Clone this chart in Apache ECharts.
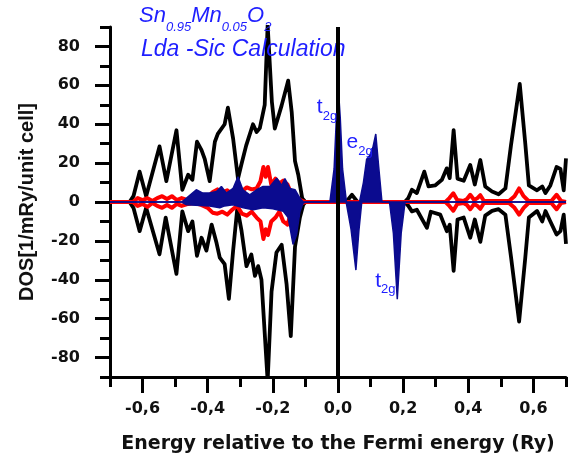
<!DOCTYPE html>
<html>
<head>
<meta charset="utf-8">
<script src="https://cdn.jsdelivr.net/npm/echarts@6/dist/echarts.min.js"></script>
<style>html,body{margin:0;padding:0;background:#fff}#c{width:574px;height:459px}</style>
</head>
<body>
<div id="c"></div>
<script>
// ---------- data (Energy [Ry], DOS) ----------
const blackUp = [[-0.700,0],[-0.640,0],[-0.628,3],[-0.609,15.6],[-0.589,3],[-0.548,28.6],[-0.527,10.7],[-0.496,36.9],[-0.478,6.3],[-0.460,14],[-0.447,11.4],[-0.433,31],[-0.419,26.7],[-0.409,22],[-0.394,10.7],[-0.378,31],[-0.369,35],[-0.348,40],[-0.338,48.5],[-0.322,32.6],[-0.307,12],[-0.297,19],[-0.282,29],[-0.261,40],[-0.250,36],[-0.240,38],[-0.225,50],[-0.216,91],[-0.203,51.5],[-0.194,37.8],[-0.173,49.7],[-0.153,62.4],[-0.142,46],[-0.132,21],[-0.122,14],[-0.110,2],[-0.100,0],[0.025,0],[0.043,3.7],[0.060,0],[0.205,0],[0.216,2],[0.227,6.3],[0.242,4.6],[0.265,15.6],[0.278,8],[0.298,8.5],[0.319,11.4],[0.334,17.3],[0.343,12.3],[0.355,36.9],[0.367,12],[0.386,10.9],[0.406,19],[0.420,9],[0.437,21.6],[0.452,8],[0.473,5.4],[0.493,4],[0.514,7],[0.531,29],[0.558,60.7],[0.575,30],[0.586,8.5],[0.611,6],[0.627,8],[0.637,4.6],[0.652,8.5],[0.671,18],[0.683,17],[0.693,6],[0.700,22.4]];
const blackDown = [[-0.700,0],[-0.640,0],[-0.628,-3],[-0.609,-15],[-0.589,-3],[-0.548,-26.9],[-0.529,-8],[-0.496,-37],[-0.478,-4.8],[-0.460,-15],[-0.447,-10],[-0.433,-27.7],[-0.419,-18.4],[-0.404,-25],[-0.388,-11.6],[-0.373,-21],[-0.363,-28.6],[-0.348,-32],[-0.335,-49.8],[-0.322,-25],[-0.309,-3],[-0.296,-15],[-0.281,-33],[-0.266,-27],[-0.255,-38],[-0.245,-33],[-0.235,-40],[-0.216,-92],[-0.204,-46],[-0.189,-26],[-0.173,-22],[-0.158,-42],[-0.145,-69],[-0.132,-23],[-0.117,-8],[-0.107,-1.5],[-0.100,0],[0.205,0],[0.216,-2],[0.227,-4.8],[0.242,-4],[0.273,-13.3],[0.285,-5],[0.314,-6.5],[0.334,-15],[0.343,-11.7],[0.355,-35.4],[0.367,-9],[0.386,-8],[0.406,-18.4],[0.420,-9],[0.437,-20.5],[0.452,-7],[0.473,-4.6],[0.493,-3.7],[0.514,-6.5],[0.531,-28],[0.556,-61.5],[0.575,-28.6],[0.586,-8],[0.611,-4.6],[0.627,-10],[0.637,-4.6],[0.652,-10],[0.671,-16.7],[0.683,-15],[0.693,-6.5],[0.700,-21.5]];
const redUp = [[-0.700,0],[-0.630,0],[-0.615,2],[-0.600,1],[-0.585,2],[-0.570,0.5],[-0.555,2],[-0.540,3],[-0.525,1.5],[-0.510,3],[-0.495,1],[-0.480,2],[-0.460,1],[-0.440,0.5],[-0.420,1.5],[-0.400,2.5],[-0.385,5],[-0.370,6.5],[-0.355,5],[-0.340,6],[-0.325,4],[-0.310,3],[-0.295,5.5],[-0.280,7.5],[-0.265,6.5],[-0.250,7],[-0.238,10.7],[-0.229,18],[-0.222,13],[-0.215,18],[-0.205,9],[-0.192,12],[-0.180,9.5],[-0.168,11],[-0.155,9],[-0.145,5],[-0.130,2],[-0.115,1],[-0.100,0],[0.330,0],[0.342,2],[0.354,4.5],[0.366,1],[0.385,0.5],[0.396,1.5],[0.406,3.7],[0.418,1],[0.428,2],[0.437,3.5],[0.448,0.5],[0.525,0.5],[0.542,3],[0.556,7],[0.570,3],[0.585,0.5],[0.655,0.5],[0.671,3.7],[0.685,0.5],[0.700,0]];
const redDown = [[-0.700,0],[-0.630,0],[-0.615,-2],[-0.600,-1],[-0.585,-2.5],[-0.570,-0.5],[-0.555,-2],[-0.540,-3],[-0.525,-1.5],[-0.510,-3],[-0.495,-1],[-0.480,-2],[-0.460,-1],[-0.440,-0.5],[-0.420,-1.5],[-0.400,-3],[-0.385,-5.5],[-0.370,-6],[-0.355,-5],[-0.340,-6.5],[-0.325,-4],[-0.310,-2],[-0.295,-6],[-0.280,-7],[-0.265,-5],[-0.250,-8],[-0.238,-10],[-0.229,-19],[-0.222,-14],[-0.215,-17],[-0.205,-10],[-0.192,-8],[-0.180,-5],[-0.168,-10],[-0.155,-11.6],[-0.145,-6],[-0.130,-2],[-0.115,-1],[-0.100,0],[0.330,0],[0.342,-2],[0.354,-4.5],[0.366,-1],[0.385,-0.5],[0.396,-1.5],[0.406,-3.7],[0.418,-1],[0.428,-2],[0.437,-3.5],[0.448,-0.5],[0.525,-0.5],[0.542,-3],[0.556,-6.5],[0.570,-3],[0.585,-0.5],[0.655,-0.5],[0.671,-3.7],[0.685,-0.5],[0.700,0]];
const blueUp = [[-0.700,0],[-0.480,0],[-0.465,2],[-0.435,6.3],[-0.415,4.6],[-0.394,4.6],[-0.373,5.4],[-0.358,8],[-0.343,4.6],[-0.322,7],[-0.307,13],[-0.292,6.3],[-0.271,3.7],[-0.250,6.3],[-0.230,8],[-0.209,8],[-0.188,12.2],[-0.173,8.5],[-0.163,12],[-0.148,7],[-0.132,6.3],[-0.117,2],[-0.107,0],[-0.025,0],[-0.012,17],[-0.005,43],[0.002,56],[0.007,43],[0.014,17],[0.026,0],[0.066,0],[0.078,10],[0.088,22],[0.098,24],[0.107,28],[0.116,35],[0.125,18],[0.135,0],[0.700,0]];
const blueDown = [[-0.700,0],[-0.480,0],[-0.465,-1.4],[-0.394,-2],[-0.363,-3],[-0.348,-2],[-0.322,-1.4],[-0.291,-3],[-0.260,-4],[-0.230,-3],[-0.200,-3.5],[-0.168,-4.8],[-0.153,-8],[-0.138,-21.8],[-0.127,-16.7],[-0.117,-5],[-0.107,-0.5],[-0.100,0],[0.025,0],[0.040,-14],[0.055,-35],[0.064,-15],[0.073,0],[0.158,0],[0.170,-16],[0.182,-50],[0.194,-16],[0.206,0],[0.700,0]];
const fermiE = 0;

// annotations
const annE = [-0.065, 0.026, 0.114];
const annV = [48.5, 30.6, -40.5];
const annBase = ['t', 'e', 't'];
const annSub = ['2g', '2g', '2g'];

// axes / ticks
const xMajor = [-0.6, -0.4, -0.2, 0.0, 0.2, 0.4, 0.6];
const xMajorLabels = ['-0,6', '-0,4', '-0,2', '0,0', '0,2', '0,4', '0,6'];
const xMinor = [-0.7, -0.5, -0.3, -0.1, 0.1, 0.3, 0.5, 0.7];
const yMajor = [-80, -60, -40, -20, 0, 20, 40, 60, 80];
const yMajorLabels = ['-80', '-60', '-40', '-20', '0', '20', '40', '60', '80'];
const yMinor = [-90, -70, -50, -30, -10, 10, 30, 50, 70, 90];

const titleLine1 = ['Sn', '0.95', 'Mn', '0.05', 'O', '2'];
const titleLine2 = 'Lda -Sic Calculation';
const xName = 'Energy relative to the Fermi energy (Ry)';
const yName = 'DOS[1/mRy/unit cell]';

// ---------- chart ----------
const BLUE_TXT = '#1e1eff';
const NAVY = '#0b0b8f';
const LBL = {fontFamily: 'DejaVu Sans', fontWeight: 'bold', fontSize: 16, color: '#111'};

const chart = echarts.init(document.getElementById('c'), null, {renderer: 'canvas'});

function fmtLabel(vals, labels) {
  return function (v) {
    for (let i = 0; i < vals.length; i++) if (Math.abs(vals[i] - v) < 1e-6) return labels[i];
    return '';
  };
}

const line1Rich = titleLine1.map((t, i) => (i % 2 === 0 ? '{b|' : '{s|') + t + '}').join('');

const commonLine = {
  type: 'line', showSymbol: false, symbol: 'none', animation: false, silent: true,
  clip: true
};

chart.setOption({
  animation: false,
  backgroundColor: '#fff',
  title: [
    {
      text: line1Rich, left: 139, top: -2, padding: 0,
      textStyle: {
        fontWeight: 'normal',
        rich: {
          b: {fontFamily: 'Liberation Sans', fontStyle: 'italic', fontWeight: 'normal', fontSize: 22, color: BLUE_TXT, lineHeight: 36, verticalAlign: 'middle'},
          s: {fontFamily: 'Liberation Sans', fontStyle: 'italic', fontWeight: 'normal', fontSize: 13, color: BLUE_TXT, lineHeight: 14, verticalAlign: 'bottom'}
        }
      }
    },
    {
      text: titleLine2, left: 141, top: 38, padding: 0,
      textStyle: {fontFamily: 'Liberation Sans', fontStyle: 'italic', fontWeight: 'normal', fontSize: 23, color: BLUE_TXT}
    }
  ],
  grid: {left: 110, right: 8, top: 27, bottom: 79, containLabel: false},
  xAxis: [
    {
      type: 'value', min: -0.7, max: 0.7, interval: 0.1,
      name: xName, nameLocation: 'middle', nameGap: 58,
      nameTextStyle: {fontFamily: 'DejaVu Sans', fontWeight: 'bold', fontSize: 19, color: '#111'},
      axisLine: {show: true, onZero: false, lineStyle: {color: '#000', width: 3}},
      axisTick: {show: true, customValues: xMinor, length: 10, lineStyle: {color: '#000', width: 3}},
      axisLabel: Object.assign({show: true, customValues: xMajor, margin: 24, formatter: fmtLabel(xMajor, xMajorLabels)}, LBL),
      splitLine: {show: false}
    },
    {
      type: 'value', min: -0.7, max: 0.7, interval: 0.1, position: 'bottom',
      axisLine: {show: false, onZero: false},
      axisTick: {show: true, customValues: xMajor, length: 16, lineStyle: {color: '#000', width: 3}},
      axisLabel: {show: false},
      splitLine: {show: false}
    }
  ],
  yAxis: [
    {
      type: 'value', min: -90, max: 90, interval: 10,
      name: yName, nameLocation: 'middle', nameGap: 73, nameRotate: 90,
      nameTextStyle: {fontFamily: 'Liberation Sans', fontWeight: 'bold', fontSize: 20, color: '#111'},
      axisLine: {show: true, onZero: false, lineStyle: {color: '#000', width: 3}},
      axisTick: {show: true, customValues: yMinor, length: 10, lineStyle: {color: '#000', width: 3}},
      axisLabel: Object.assign({show: true, customValues: yMajor, margin: 30, formatter: fmtLabel(yMajor, yMajorLabels)}, LBL),
      splitLine: {show: false}
    },
    {
      type: 'value', min: -90, max: 90, interval: 10, position: 'left',
      axisLine: {show: false, onZero: false},
      axisTick: {show: true, customValues: yMajor, length: 15, lineStyle: {color: '#000', width: 3}},
      axisLabel: {show: false},
      splitLine: {show: false}
    }
  ],
  series: [
    Object.assign({}, commonLine, {name: 'totUp', data: blackUp, z: 2, lineStyle: {color: '#000', width: 3.8, join: 'round'}}),
    Object.assign({}, commonLine, {name: 'totDown', data: blackDown, z: 2, lineStyle: {color: '#000', width: 3.8, join: 'round'}}),
    Object.assign({}, commonLine, {name: 'redUp', data: redUp, z: 3, lineStyle: {color: '#ff0000', width: 4, join: 'round'}}),
    Object.assign({}, commonLine, {name: 'redDown', data: redDown, z: 3, lineStyle: {color: '#ff0000', width: 4, join: 'round'}}),
    Object.assign({}, commonLine, {name: 'mnUp', data: blueUp, z: 4, lineStyle: {color: NAVY, width: 1.5}, areaStyle: {color: NAVY, opacity: 1, origin: 0}}),
    Object.assign({}, commonLine, {name: 'mnDown', data: blueDown, z: 4, lineStyle: {color: NAVY, width: 1.5}, areaStyle: {color: NAVY, opacity: 1, origin: 0},
      markLine: {silent: true, symbol: ['none', 'none'], animation: false, z: 10,
        label: {show: false}, lineStyle: {color: '#000', width: 4, type: 'solid'},
        data: [{xAxis: fermiE}]}}),
    {
      type: 'scatter', name: 'labels', z: 12, silent: true, symbolSize: 0, animation: false,
      itemStyle: {opacity: 1},
      data: annE.map((e, i) => [e, annV[i]]),
      label: {
        show: true, position: 'right', distance: 0, opacity: 1,
        formatter: p => '{t|' + annBase[p.dataIndex] + '}{s|' + annSub[p.dataIndex] + '}',
        rich: {
          t: {fontFamily: 'Liberation Sans', fontSize: 21, color: '#2020ff', lineHeight: 30, verticalAlign: 'middle'},
          s: {fontFamily: 'Liberation Sans', fontSize: 13, color: '#2020ff', lineHeight: 12, verticalAlign: 'bottom'}
        }
      }
    }
  ]
});
</script>
</body>
</html>
